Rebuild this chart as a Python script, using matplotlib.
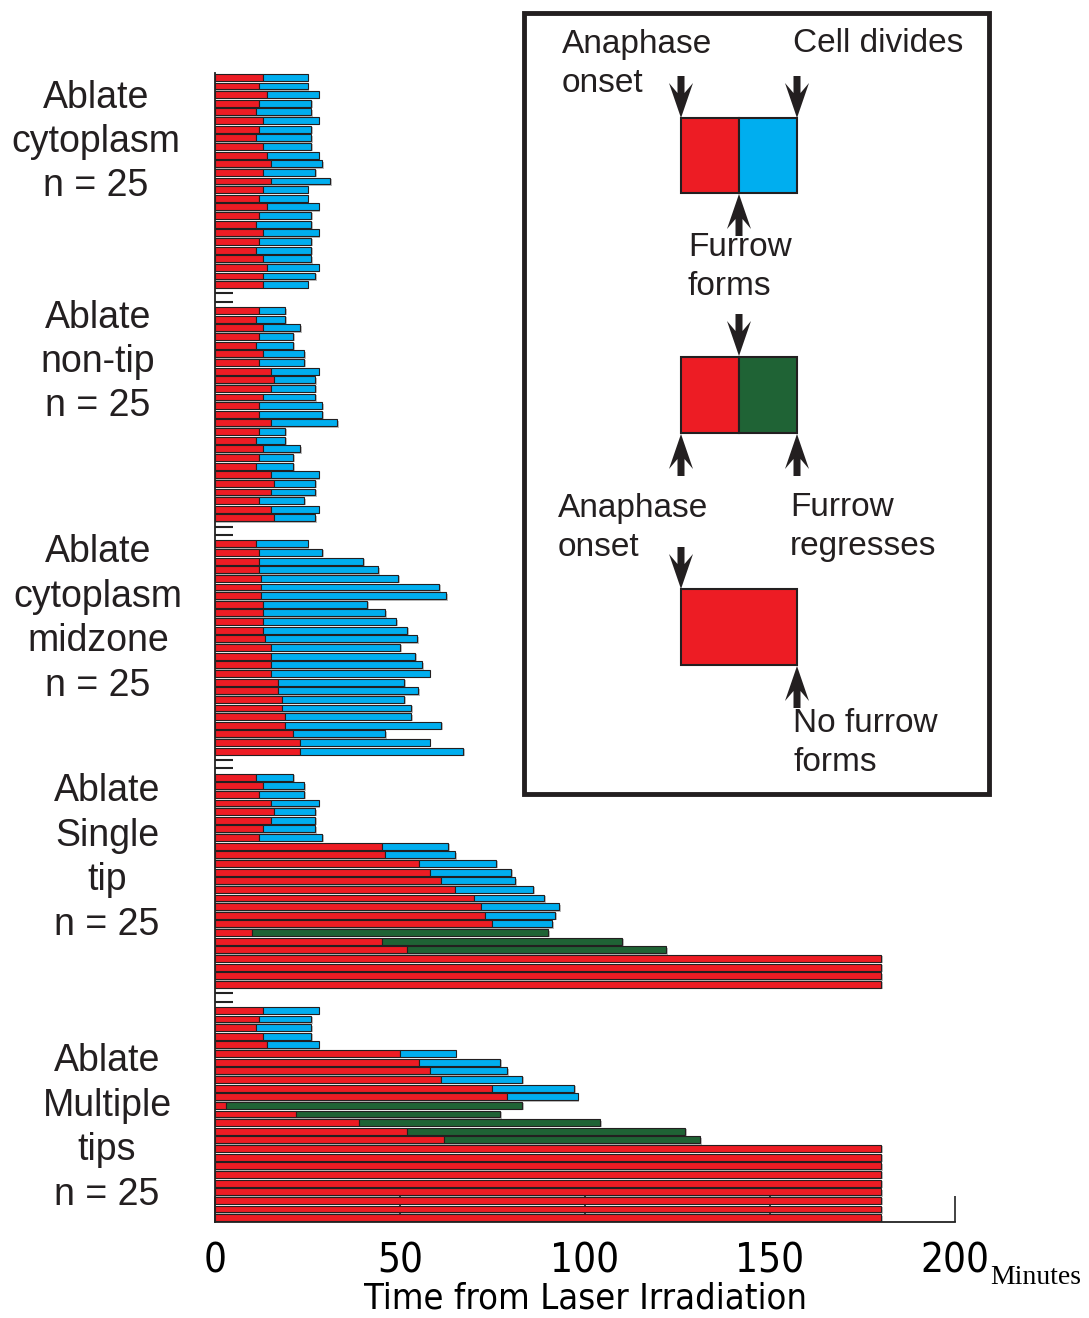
import matplotlib
matplotlib.use("Agg")
import matplotlib.pyplot as plt
from matplotlib import font_manager
from matplotlib.patches import Rectangle, Polygon

# time (min) from laser irradiation: end of red segment = furrow forms / regresses,
# end of bar = cell divides (blue) or furrow regresses (green); red-only = no furrow
groups = ["Ablate\ncytoplasm\nn = 25",
          "Ablate\nnon-tip\nn = 25",
          "Ablate\ncytoplasm\nmidzone\nn = 25",
          "Ablate\nSingle\ntip\nn = 25",
          "Ablate\nMultiple\ntips\nn = 25"]

red_cyto = [13, 12, 14, 12, 11, 13, 12, 11, 13, 14, 15, 13, 15, 13, 12, 14, 12, 11, 13, 12, 11, 13, 14, 13, 13]
end_cyto = [25, 25, 28, 26, 26, 28, 26, 26, 26, 28, 29, 27, 31, 25, 25, 28, 26, 26, 28, 26, 26, 26, 28, 27, 25]
kind_cyto = "b" * 25

red_nontip = [12, 11, 13, 12, 11, 13, 12, 15, 16, 15, 13, 12, 12, 15, 12, 11, 13, 12, 11, 15, 16, 15, 12, 15, 16]
end_nontip = [19, 19, 23, 21, 21, 24, 24, 28, 27, 27, 27, 29, 29, 33, 19, 19, 23, 21, 21, 28, 27, 27, 24, 28, 27]
kind_nontip = "b" * 25

red_mid = [11, 12, 12, 12, 12.5, 12.5, 12.5, 13, 13, 13, 13, 13.5, 15, 15, 15, 15, 17, 17, 18, 18, 19, 19, 21, 23, 23]
end_mid = [25, 29, 40, 44, 49.5, 60.5, 62.5, 41, 46, 49, 52, 54.5, 50, 54, 56, 58, 51, 55, 51, 53, 53, 61, 46, 58, 67]
kind_mid = "b" * 25

red_single = [11, 13, 12, 15, 16, 15, 13, 12, 45, 46, 55, 58, 61, 65, 70, 72, 73, 75, 10, 45, 52, 180, 180, 180, 180]
end_single = [21, 24, 24, 28, 27, 27, 27, 29, 63, 65, 76, 80, 81, 86, 89, 93, 92, 91, 90, 110, 122, 180, 180, 180, 180]
kind_single = "b" * 18 + "g" * 3 + "r" * 4

red_multi = [13, 12, 11, 13, 14, 50, 55, 58, 61, 75, 79, 3, 22, 39, 52, 62, 180, 180, 180, 180, 180, 180, 180, 180, 180]
end_multi = [28, 26, 26, 26, 28, 65, 77, 79, 83, 97, 98, 83, 77, 104, 127, 131, 180, 180, 180, 180, 180, 180, 180, 180, 180]
kind_multi = "b" * 11 + "g" * 5 + "r" * 9

xticks = [0, 50, 100, 150, 200]

RED = "#ED1C24"
BLUE = "#00AEEF"
GREEN = "#1F6335"
EDGE = "#231F20"

all_red = [red_cyto, red_nontip, red_mid, red_single, red_multi]
all_end = [end_cyto, end_nontip, end_mid, end_single, end_multi]
all_kind = [kind_cyto, kind_nontip, kind_mid, kind_single, kind_multi]


def narrow_font(size):
    # pick any installed condensed/narrow sans face for the axis text
    for f in font_manager.fontManager.ttflist:
        nm = f.name.lower()
        if f.style != "normal" or f.weight not in (400, "normal", "regular"):
            continue
        if "mono" in nm or "serif" in nm and "sans" not in nm:
            continue
        if f.stretch in ("condensed", "semi-condensed") or "narrow" in nm or "condensed" in nm:
            return font_manager.FontProperties(fname=f.fname, size=size)
    return font_manager.FontProperties(family="Liberation Sans", size=size * 0.85)


fig = plt.figure(figsize=(10.89, 13.18), dpi=100)
ax = fig.add_axes([215 / 1089, 96 / 1318, 740 / 1089, 1149 / 1318])

GAP = 2
gap_rows = []
row = 0
for g in range(len(groups)):
    reds, ends, kinds = all_red[g], all_end[g], all_kind[g]
    ys = list(range(row, row + len(reds)))
    # grey drop shadow under each bar
    ax.barh([y + 0.16 for y in ys], [e + 0.5 for e in ends], height=0.8,
            color="#BDBDBD", zorder=1)
    ax.barh(ys, reds, height=0.8, color=RED, edgecolor=EDGE, linewidth=0.8, zorder=2)
    for y, r, e, k in zip(ys, reds, ends, kinds):
        if k == "r":
            continue
        ax.barh(y, e - r, left=r, height=0.8, color=BLUE if k == "b" else GREEN,
                edgecolor=EDGE, linewidth=0.8, zorder=2)
    row += len(reds)
    if g < len(groups) - 1:
        gap_rows += list(range(row, row + GAP))
        row += GAP

ax.set_xlim(0, 200)
ax.set_ylim(row - 0.5, -0.5)
for s in ["top", "right"]:
    ax.spines[s].set_visible(False)
for s in ["left", "bottom"]:
    ax.spines[s].set_linewidth(1.3)
    ax.spines[s].set_color("#222222")

ax.set_yticks(gap_rows)
ax.set_yticklabels([])
ax.tick_params(axis="y", direction="in", length=13, width=1.5, color="#222222")
ax.set_xticks(xticks)
ax.set_xticklabels([str(t) for t in xticks], fontproperties=narrow_font(29))
ax.tick_params(axis="x", direction="in", length=19, width=1.2, color="#222222", pad=14)
ax.set_xlabel("Time from Laser Irradiation", fontproperties=narrow_font(26), labelpad=0)

# overlay in pixel coordinates for the labels and the key
ov = fig.add_axes([0, 0, 1, 1])
ov.set_xlim(0, 1089)
ov.set_ylim(1318, 0)
ov.axis("off")

ov.text(990, 1277, "Minutes", family="Liberation Serif", fontsize=20, va="center", ha="left")

label_x = [96, 98, 98, 107, 107]
label_y = [142, 362, 619, 858, 1128]
for name, lx, ly in zip(groups, label_x, label_y):
    ov.text(lx, ly, name, family="Liberation Sans", fontsize=27, ha="center", va="center",
            linespacing=1.3, color="#231F20")

# key box
ov.add_patch(Rectangle((524, 13), 465, 781, fill=False, lw=3.5, edgecolor="#231F20"))


def arrow(x, ytip, down=True):
    s = 1 if down else -1
    pts = [(x, ytip), (x + 12, ytip - s * 35), (x + 3.5, ytip - s * 25),
           (x + 3.5, ytip - s * 42), (x - 3.5, ytip - s * 42), (x - 3.5, ytip - s * 25),
           (x - 12, ytip - s * 35)]
    ov.add_patch(Polygon(pts, closed=True, color="#231F20", lw=0))


def box(x0, x1, y0, y1, color):
    ov.add_patch(Rectangle((x0, y0), x1 - x0, y1 - y0, facecolor=color,
                           edgecolor="#231F20", lw=1.5))


kfont = dict(family="Liberation Sans", fontsize=24, va="center", ha="left",
             linespacing=1.36, color="#231F20")

ov.text(562, 64, "Anaphase\nonset", **kfont)
ov.text(793, 44, "Cell divides", **kfont)
box(681, 739, 118, 193, RED)
box(739, 797, 118, 193, BLUE)
arrow(681, 118)
arrow(797, 118)
arrow(739, 194, down=False)
ov.text(688, 267, "Furrow\nforms", **kfont)

arrow(739, 356)
box(681, 739, 357, 433, RED)
box(739, 797, 357, 433, GREEN)
arrow(681, 434, down=False)
arrow(797, 434, down=False)
ov.text(558, 528, "Anaphase\nonset", **kfont)
ov.text(790, 527, "Furrow\nregresses", **kfont)

arrow(681, 589)
box(681, 797, 589, 665, RED)
arrow(797, 666, down=False)
ov.text(793, 743, "No furrow\nforms", **kfont)

fig.savefig("out.png", dpi=100)
